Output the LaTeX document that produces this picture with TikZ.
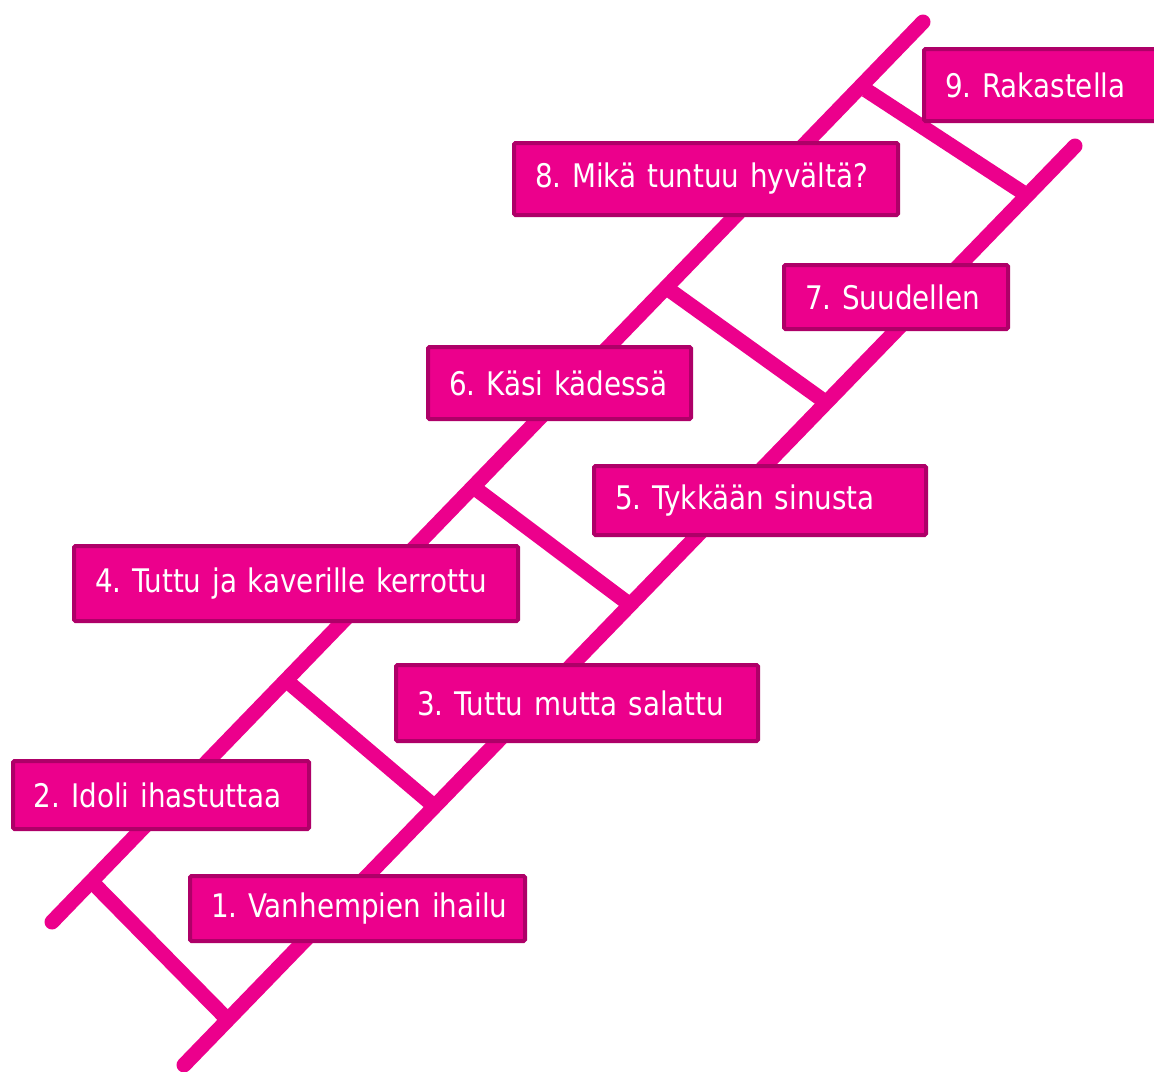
\documentclass[tikz,border=0pt]{standalone}
\usepackage{fontspec}
\setmainfont[FakeStretch=0.95]{DejaVu Sans Condensed}
\definecolor{mag}{HTML}{EC008C}
\definecolor{magdark}{HTML}{AE0068}
\tikzset{
  rail/.style={draw=mag, line width=15pt, line cap=round},
  rung/.style={draw=mag, line width=15pt, line cap=butt},
  stepbox/.style={draw=magdark, fill=mag, line width=4pt, rounded corners=1.5pt,
    anchor=north west, inner xsep=21pt, inner ysep=0pt, align=left,
    text=white, font=\fontsize{32.5}{36}\selectfont\frenchspacing}
}
\newcommand{\boxtext}[1]{\mbox{#1}}
\begin{document}
\begin{tikzpicture}[x=1pt,y=-1pt]
\useasboundingbox (0,0) rectangle (1154,1071);
% rails
\coordinate (L0) at (52,922);
\coordinate (L1) at (923,22);
\coordinate (R0) at (184,1065);
\coordinate (R1) at (1075,146);
\draw[rail] (L0) -- (L1);
\draw[rail] (R0) -- (R1);
% rungs
\coordinate (a1) at (94,884);  \coordinate (b1) at (228,1020);
\coordinate (a2) at (288,682); \coordinate (b2) at (434,806);
\coordinate (a3) at (476,489); \coordinate (b3) at (629,604);
\coordinate (a4) at (668,289); \coordinate (b4) at (824,401);
\coordinate (a5) at (866,90);  \coordinate (b5) at (1022,192);
\foreach \i in {1,...,5} \draw[rung] (a\i) -- (b\i);
% boxes
\node[stepbox, text width=293pt, minimum height=65pt] (s1) at (188,874) {\boxtext{1. Vanhempien ihailu}};
\node[stepbox, text width=254pt, minimum height=68pt] (s2) at (11,759) {\boxtext{2. Idoli ihastuttaa}};
\node[stepbox, text width=320pt, minimum height=76pt] (s3) at (394,663) {\boxtext{3. Tuttu mutta salattu}};
\node[stepbox, text width=402pt, minimum height=75pt] (s4) at (72,544) {\boxtext{4. Tuttu ja kaverille kerrottu}};
\node[stepbox, text width=290pt, minimum height=69pt] (s5) at (592,464) {\boxtext{5. Tykkään sinusta}};
\node[stepbox, text width=221pt, minimum height=72pt] (s6) at (426,345) {\boxtext{6. Käsi kädessä}};
\node[stepbox, text width=182pt, minimum height=64pt] (s7) at (782,263) {\boxtext{7. Suudellen}};
\node[stepbox, text width=342pt, minimum height=72pt] (s8) at (512,141) {\boxtext{8. Mikä tuntuu hyvältä?}};
\node[stepbox, text width=200pt, minimum height=72pt] (s9) at (922,47) {\boxtext{9. Rakastella}};
\end{tikzpicture}
\end{document}
